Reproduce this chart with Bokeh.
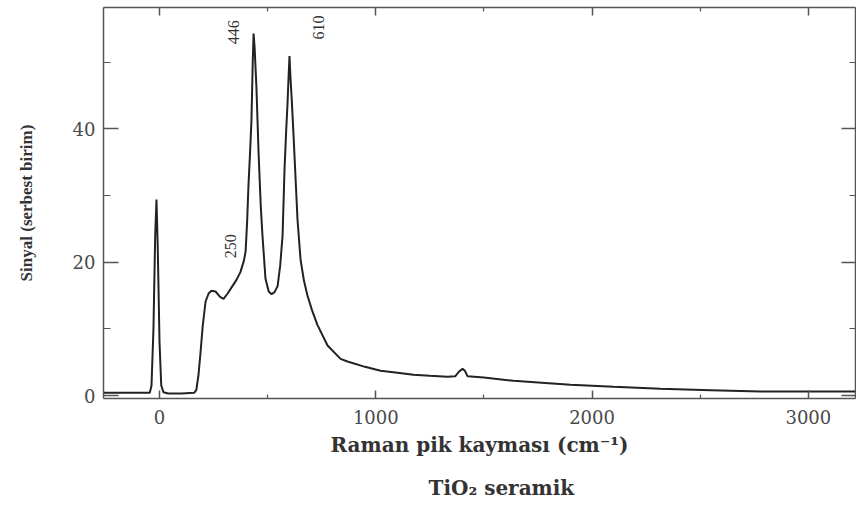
import math
from bokeh.plotting import figure
from bokeh.models import (ColumnDataSource, LinearAxis, Range1d, FixedTicker,
                          CustomJSTickFormatter, Title)
from bokeh.core.properties import value
from bokeh.embed import file_html
from bokeh.resources import INLINE

# Raman shift (cm-1) and signal (arbitrary units)
raman_shift = [-259, -150, -45, -37, -28, -20, -14, -8, 0, 8, 18, 40, 100, 160, 170, 180,
               190, 200, 213, 227, 240, 259, 280, 296, 315, 337, 355, 374, 390, 398, 405,
               411, 418, 425, 431, 435, 440, 448, 458, 468, 476, 490, 505, 518, 532, 546,
               558, 569, 578, 586, 592, 597, 601, 605, 612, 620, 638, 652, 668, 684, 705,
               730, 777, 837, 869, 950, 1022, 1100, 1174, 1250, 1331, 1368, 1385, 1401,
               1412, 1424, 1500, 1637, 1800, 1900, 2100, 2316, 2550, 2779, 3000, 3222]
signal = [0.4, 0.4, 0.4, 1.5, 10, 24, 29.4, 22, 8, 1.5, 0.5, 0.3, 0.3, 0.4, 0.8, 3,
          6.6, 10.5, 14.1, 15.3, 15.7, 15.6, 14.8, 14.5, 15.3, 16.4, 17.3, 18.5, 20.2, 21.6, 26,
          31.3, 36, 41.2, 50, 54.3, 52, 46.3, 36.4, 28.5, 24, 17.5, 15.6, 15.2, 15.5, 16.4,
          19.5, 24, 34, 40, 43.9, 48, 50.9, 48, 44, 38.8, 26.4, 20.4, 17.2, 15, 12.8,
          10.6, 7.5, 5.5, 5.1, 4.3, 3.7, 3.4, 3.1, 2.95, 2.8, 2.9, 3.6, 4.0,
          3.7, 2.9, 2.7, 2.2, 1.85, 1.6, 1.3, 1.0, 0.8, 0.6, 0.6, 0.6]

peak_labels = ["446", "610", "250"]
peak_label_x = [342, 735, 328]
peak_label_y = [54.5, 55.2, 22.4]

x_ticks = [0, 1000, 2000, 3000]
x_minor = [-500, 500, 1500, 2500]
y_ticks = [0, 20, 40]
y_minor = [10, 30, 50]

SERIF = "Liberation Serif"
WIDE_SERIF = "DejaVu Serif"
AXIS_COLOR = "#555555"
TEXT_COLOR = "#4a4a4a"
LABEL_COLOR = "#333333"

p = figure(width=856, height=513, output_backend="svg", toolbar_location=None,
           x_range=Range1d(-259, 3218), y_range=Range1d(-0.45, 58.2),
           min_border_left=103, min_border_right=1, min_border_top=7, min_border_bottom=113)
p.outline_line_color = None
p.grid.visible = False
p.background_fill_color = "white"

src = ColumnDataSource(dict(x=raman_shift, y=signal))
p.line("x", "y", source=src, line_color="#222222", line_width=2)

lbl = ColumnDataSource(dict(x=peak_label_x, y=peak_label_y, t=peak_labels))
p.text("x", "y", text="t", source=lbl, angle=math.pi / 2, text_align="center",
       text_baseline="middle", text_font=value(SERIF), text_font_size="16px",
       text_color=LABEL_COLOR)

def style(ax, major_in, minor_in, labels=True):
    ax.axis_line_color = AXIS_COLOR
    ax.axis_line_width = 1.5
    ax.major_tick_line_color = AXIS_COLOR
    ax.minor_tick_line_color = AXIS_COLOR
    ax.major_tick_line_width = 1.5
    ax.minor_tick_line_width = 1.2
    ax.major_tick_in = major_in
    ax.major_tick_out = 0
    ax.minor_tick_in = minor_in
    ax.minor_tick_out = 0
    ax.major_label_text_font = WIDE_SERIF
    ax.major_label_text_font_size = "18px"
    ax.major_label_text_color = TEXT_COLOR
    if not labels:
        ax.formatter = CustomJSTickFormatter(code="return ''")
        ax.major_label_standoff = 0

xb = p.xaxis[0]
xb.ticker = FixedTicker(ticks=x_ticks, minor_ticks=x_minor)
style(xb, 8, 4)
xb.major_label_standoff = 11
xb.axis_label = "Raman pik kayması (cm⁻¹)"
xb.axis_label_text_font = WIDE_SERIF
xb.axis_label_text_font_style = "bold"
xb.axis_label_text_font_size = "20px"
xb.axis_label_text_color = LABEL_COLOR
xb.axis_label_standoff = 6

yl = p.yaxis[0]
yl.ticker = FixedTicker(ticks=y_ticks, minor_ticks=y_minor)
style(yl, 15, 7)
yl.major_label_standoff = 8
yl.axis_label = "Sinyal (serbest birim)"
yl.axis_label_text_font = SERIF
yl.axis_label_text_font_style = "bold"
yl.axis_label_text_font_size = "17px"
yl.axis_label_text_color = LABEL_COLOR
yl.axis_label_standoff = 34

xt = LinearAxis(ticker=FixedTicker(ticks=x_ticks, minor_ticks=x_minor))
style(xt, 8, 4, labels=False)
p.add_layout(xt, "above")

yr = LinearAxis(ticker=FixedTicker(ticks=y_ticks, minor_ticks=y_minor))
style(yr, 14, 6, labels=False)
p.add_layout(yr, "right")

caption = Title(text="TiO₂  seramik", align="left", offset=325, standoff=28,
                text_font=WIDE_SERIF, text_font_size="20px", text_font_style="bold",
                text_color=LABEL_COLOR)
p.add_layout(caption, "below")

open("out.html", "w").write(file_html(p, INLINE))
